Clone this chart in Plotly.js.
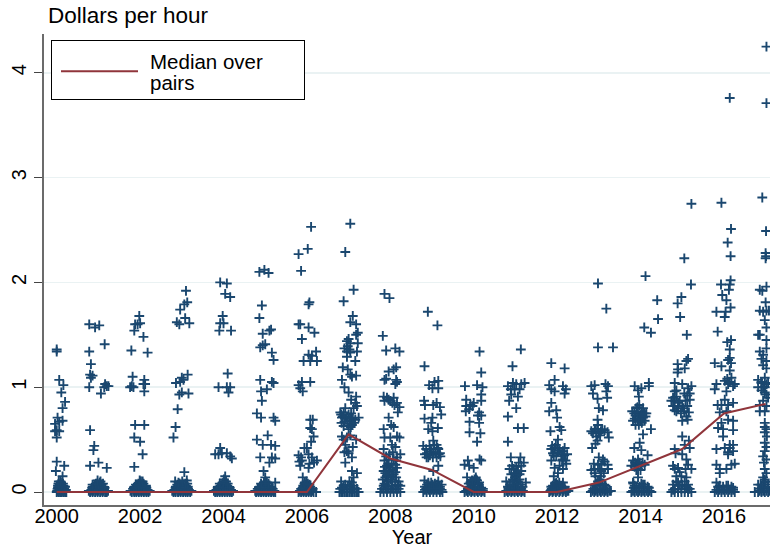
<!DOCTYPE html>
<html><head><meta charset="utf-8">
<script src="https://cdn.plot.ly/plotly-3.0.1.min.js"></script>
<style>html,body{margin:0;padding:0;background:#fff}</style></head>
<body><div id="chart" style="width:770px;height:548px"></div>
<script>
// Each point: [horizontal jitter in years, dollars per hour]
const p2000=[[0,1.36],[0,1.34],[.06,1.07],[.16,1.02],[.11,.95],[.2,.86],[.14,.8],[.02,.71],[.14,.68],[.06,.67],[-.04,.65],[0,.59],[.06,.58],[-.04,.58],[0,.52],[0,.29],[.18,.25],[-.02,.2],[.14,.15],
[0,0],[.04,0],[.08,0],[.12,0],[.16,0],[.2,0],[.23,0],[.02,.03],[.06,.02],[.1,.03],[.14,.02],[.18,.03],[.22,.02],[.03,.06],[.07,.07],[.12,.06],[.16,.06],[.2,.05],[.1,.09],[.05,.1],
[.01,.01],[.05,.01],[.09,.02],[.13,.01],[.17,.01],[.21,.01],[.03,.04],[.08,.04],[.13,.04],[.18,.05],[.06,.05],[.11,.07],[.15,.08],[.04,.08],[.09,.1]];
const p2001=[[-.22,1.6],[-.08,1.57],[.02,1.59],[.15,1.41],[-.22,1.34],[-.18,1.22],[-.2,1.12],[-.14,1.11],[-.18,1.09],[-.22,1],[.06,.94],[.16,1.03],[.2,1.01],[.14,1],[.24,1.01],[-.2,.59],[-.1,.44],[-.12,.4],[0,.28],[-.2,.25],[.2,.23],
[-.2,0],[-.14,0],[-.08,0],[-.02,0],[.04,0],[.1,0],[.16,0],[.2,0],[-.17,.02],[-.11,.03],[-.05,.02],[.01,.03],[.07,.02],[.13,.03],[.19,.01],[-.12,.05],[-.06,.06],[0,.05],[.06,.06],[.11,.05],[-.03,.08],[.03,.09],[.08,.07],[-.09,.07],
[-.23,.01],[-.18,.01],[-.12,.01],[-.06,.01],[0,.01],[.06,.01],[.12,.01],[.18,.01],[.23,.01],[-.15,.04],[-.09,.04],[-.03,.04],[.03,.04],[.09,.04],[.15,.04],[-.14,.07],[-.06,.08],[.01,.07],[.11,.08],[.05,.1],[-.02,.11]];
const p2002=[[-.02,1.68],[-.12,1.6],[-.06,1.6],[0,1.61],[-.14,1.54],[.08,1.48],[-.21,1.35],[.18,1.33],[-.18,1.1],[.1,1.07],[.08,1.03],[.12,1.03],[-.24,1],[-.16,1],[-.2,1.01],[.1,.96],[-.12,.64],[.1,.64],[-.14,.52],[0,.48],[.06,.36],[-.14,.24],
[-.2,0],[-.14,0],[-.09,0],[-.03,0],[.03,0],[.09,0],[.15,0],[.2,0],[-.17,.03],[-.11,.02],[-.05,.03],[.01,.02],[.06,.03],[.12,.02],[.18,.02],[-.13,.05],[-.07,.06],[-.01,.06],[.05,.07],[.11,.05],[-.04,.08],[.02,.1],[.08,.08],
[-.23,.01],[-.16,.01],[-.11,.01],[-.06,.01],[0,.01],[.06,.01],[.12,.01],[.17,.01],[.23,.01],[-.15,.04],[-.09,.04],[-.03,.04],[.03,.04],[.09,.04],[.15,.04],[-.1,.07],[-.03,.06],[.03,.07],[.14,.06],[.06,.1],[-.01,.11]];
const p2003=[[.1,1.92],[.13,1.81],[.06,1.79],[-.04,1.74],[.08,1.66],[-.12,1.62],[-.06,1.6],[.18,1.61],[.14,1.12],[0,1.09],[.04,1.07],[-.04,1.05],[-.14,1.04],[0,.95],[-.06,.93],[.16,.94],[-.1,.79],[-.15,.62],[-.2,.52],[.06,.19],[-.16,.1],[.12,.11],
[-.2,0],[-.15,0],[-.09,0],[-.03,0],[.03,0],[.09,0],[.14,0],[.2,0],[-.18,.02],[-.12,.03],[-.06,.02],[0,.03],[.06,.02],[.11,.03],[.17,.02],[-.14,.05],[-.08,.06],[-.02,.07],[.04,.06],[.1,.06],[.14,.05],[-.05,.08],[.02,.08],
[-.23,.01],[-.17,.01],[-.11,.01],[-.06,.01],[0,.01],[.06,.01],[.11,.01],[.17,.01],[.23,.01],[-.15,.04],[-.09,.04],[-.03,.04],[.03,.04],[.08,.04],[.15,.03],[-.11,.07],[.08,.08],[.13,.08],[-.08,.09],[.01,.1]];
const p2004=[[-.08,2],[.08,1.99],[.04,1.89],[.16,1.86],[-.02,1.68],[-.08,1.61],[0,1.61],[-.1,1.54],[.18,1.54],[.1,1.13],[-.12,1],[.08,1],[.16,1],[.12,.95],[-.08,.42],[-.2,.36],[-.12,.36],[-.04,.37],[.08,.37],[.16,.34],[.2,.32],[.04,.15],
[-.2,0],[-.15,0],[-.09,0],[-.03,0],[.03,0],[.09,0],[.15,0],[.2,0],[-.17,.02],[-.11,.03],[-.05,.02],[.01,.03],[.07,.03],[.13,.02],[.18,.02],[-.12,.05],[-.06,.06],[0,.06],[.06,.06],[.11,.05],[-.03,.08],[.03,.1],[.01,.12],[.07,.08],
[-.23,.01],[-.17,.01],[-.12,.01],[-.06,.01],[0,.01],[.06,.01],[.12,.01],[.17,.01],[.23,.01],[-.14,.04],[-.08,.04],[-.02,.04],[.04,.04],[.09,.04],[.15,.04],[-.09,.08],[-.01,.09],[.1,.08],[.06,.1]];
const p2005=[[-.14,2.1],[-.02,2.12],[.08,2.09],[-.08,1.78],[-.14,1.66],[.14,1.55],[.1,1.54],[-.06,1.51],[0,1.41],[-.06,1.4],[-.12,1.38],[.16,1.33],[.2,1.26],[-.12,1.07],[.16,1.05],[.2,1.04],[-.1,.96],[.04,.98],[-.08,.87],[-.2,.75],[-.1,.71],[.2,.71],[.24,.68],[.06,.54],[-.2,.5],[-.06,.45],[.14,.45],[.24,.44],[-.12,.33],[.16,.33],[.24,.32],[.1,.28],[-.04,.2],[0,.14],[.24,.09],
[-.22,0],[-.16,0],[-.1,0],[-.04,0],[.02,0],[.08,0],[.14,0],[.2,0],[.24,0],[-.18,.03],[-.12,.02],[-.06,.03],[0,.02],[.06,.03],[.12,.02],[.18,.03],[-.13,.05],[-.07,.06],[-.01,.07],[.05,.06],[.1,.05],[-.03,.09],[.04,.09],
[-.24,.01],[-.19,.01],[-.13,.01],[-.07,.01],[-.01,.01],[.05,.01],[.11,.01],[.17,.01],[.22,.01],[-.15,.04],[-.09,.04],[-.03,.04],[.03,.04],[.09,.04],[.15,.04],[-.1,.08],[.01,.1],[.08,.08]];
const p2006=[[.1,2.53],[.02,2.32],[-.2,2.27],[-.14,2.11],[.04,1.79],[.06,1.81],[-.2,1.6],[-.16,1.6],[.04,1.57],[.18,1.52],[-.12,1.46],[.22,1.34],[.04,1.31],[.12,1.3],[-.08,1.25],[.08,1.25],[.24,1.25],[-.12,1.05],[.08,1.05],[-.2,1.02],[-.16,.99],[-.1,.96],[.08,.69],[.14,.69],[.08,.61],[.12,.6],[.16,.53],[.1,.48],[0,.42],[-.06,.42],[-.2,.35],[.04,.36],[-.12,.3],[.24,.3],[.12,.33],[-.16,.25],[.04,.23],[-.1,.14],
[-.2,0],[-.14,0],[-.08,0],[-.02,0],[.04,0],[.1,0],[.16,0],[.22,0],[-.12,.03],[-.06,.02],[0,.03],[.06,.02],[.12,.02],[-.09,.06],[-.03,.07],[.03,.06],[.08,.05],[-.05,.09],[-.01,.1],
[-.17,.01],[-.11,.01],[-.05,.01],[.01,.01],[.07,.01],[.13,.01],[-.09,.04],[-.03,.04],[.03,.04],[.09,.03],[.14,.03],[-.14,.03],[-.06,.08],[.02,.08],[.06,.07],[.17,.28],[.06,.27],[-.14,.33],[-.18,.29]];
const p2007=[[.04,2.56],[-.08,2.29],[.12,1.93],[-.12,1.82],[.1,1.68],[.04,1.62],[.18,1.6],[.22,1.52],[.18,1.5],[0,1.46],[-.04,1.44],[.04,1.42],[.22,1.42],[-.1,1.37],[-.02,1.39],[.02,1.36],[-.04,1.34],[.04,1.33],[.2,1.34],[-.04,1.29],[.16,1.25],[-.14,1.19],[-.02,1.17],[.04,1.12],[.18,1.11],[.08,1.1],[-.16,1.07],[-.1,1],[0,.95],[.18,.91],[.06,.88],[.16,.85],[.2,.82],[.12,.8],[-.08,.8],[-.2,.76],[-.12,.76],[0,.74],[.06,.75],[.24,.71],[-.16,.71],[-.08,.7],[.02,.68],[.16,.69],[-.12,.63],[.08,.64],[0,.6],[-.16,.53],[.04,.54],[.18,.5],[-.08,.45],[-.04,.39],[0,.37],[.08,.33],[-.08,.28],[.2,.18],[.08,.2],[.12,.14],[-.18,.1],[.02,.1],[-.12,.06],[.04,.06],[-.22,0],[-.14,0],[-.06,0],[.02,0],[.1,0],[.18,0],[.24,0],[-.16,.04],[-.08,.07],[.12,.06],
[-.18,.74],[-.14,.72],[-.05,.72],[.04,.71],[.1,.7],[-.1,.67],[-.17,.66],[-.03,.65],[.05,.62],[.13,.66],[-.12,.5],[-.04,.52],[.1,.43],[-.1,.38],[-.18,0],[-.1,0],[-.02,0],[.06,0],[.14,0],[.21,0],[-.2,.03],[-.12,.03],[-.04,.03],[.04,.03],[.12,.03],[.2,.03],[.08,.09],[-.02,.06]];
const p2008=[[-.14,1.89],[-.02,1.85],[-.18,1.49],[-.1,1.35],[.12,1.37],[.22,1.34],[.14,1.19],[.08,1.17],[-.04,1.15],[-.1,1.08],[-.14,1.07],[.14,1.07],[.16,1.05],[.12,1.03],[-.16,.91],[-.08,.9],[-.14,.87],[.08,.9],[0,.87],[.16,.85],[.1,.83],[.22,.81],[.18,.76],[-.04,.71],[.02,.64],[-.16,.6],[.08,.62],[-.14,.52],[.16,.53],[.22,.52],[0,.52],[.04,.45],[.12,.43],[-.16,.41],[.24,.36],[.16,.33],[-.04,.31],[.08,.31],[-.08,.25],[-.16,.2],[0,.23],[.16,.23],[-.08,.15],[.08,.17],[-.18,.12],[0,.12],[.2,.1],[-.24,0],[-.16,0],[-.08,0],[0,0],[.08,0],[.16,0],[.24,0],[-.16,.06],[-.04,.06],[.12,.06],[.24,.06],[-.12,.14],
[-.04,.88],[.05,.85],[-.1,.34],[-.02,.36],[.06,.38],[.14,.3],[-.14,.3],[-.05,.27],[.03,.27],[.12,.26],[-.13,.24],[-.03,.2],[.06,.21],[.12,.19],[-.12,.18],[-.05,.16],[.02,.15],[.14,.14],[-.14,.08],[-.06,.1],[.05,.1],[.12,.1],[-.2,.03],[-.12,.03],[-.04,.03],[.04,.03],[.12,.03],[.2,.03],[-.09,.06],[.04,.06],[.18,.07]];
const p2009=[[-.1,1.72],[.13,1.59],[-.18,1.2],[.15,1.06],[.06,1.05],[-.07,1.02],[.01,.99],[.15,.99],[-.19,.87],[-.17,.83],[.11,.85],[.19,.81],[.03,.83],[.22,.74],[-.18,.7],[.01,.71],[-.02,.66],[.14,.61],[-.09,.6],[.01,.58],[.03,.49],[.11,.45],[-.21,.44],[-.05,.41],[.15,.41],[-.17,.36],[.03,.37],[.19,.37],[-.09,.33],[.11,.33],[.15,.25],[.03,.2],[-.18,.11],[-.09,.09],[.01,.07],[.15,.1],[.23,.07],[-.21,0],[-.13,0],[-.05,0],[.03,0],[.11,0],[.19,0],[.25,0],[-.17,.05],[-.05,.05],[.07,.05],[.19,.05],
[-.06,.44],[.05,.45],[.13,.42],[-.14,.41],[.09,.38],[-.02,.39],[-.12,.37],[-.05,.35],[.16,.36],[-.13,.33],[.02,.33],[.2,.34],[-.17,.02],[-.09,.02],[-.01,.02],[.07,.02],[.15,.02],[.23,.02],[-.12,.07],[-.02,.09],[.07,.08],[.12,.07],[-.14,.03],[.03,.03],[-.06,.03],[.12,.03],[.19,.03]];
const p2010=[[.14,1.34],[.18,1.14],[-.21,1.01],[.08,1.02],[.21,1],[.18,.93],[-.18,.88],[.18,.87],[0,.85],[-.08,.83],[-.18,.82],[-.03,.82],[-.11,.79],[-.19,.77],[.13,.76],[.1,.73],[.18,.73],[-.1,.67],[.13,.66],[-.1,.57],[.16,.56],[.08,.48],[.14,.31],[.18,.3],[-.14,.3],[-.22,.26],[-.11,.25],[0,.23],[-.16,.14],[.06,.12],[-.08,.09],[0,.1],[.13,.09],[-.22,0],[-.14,0],[-.06,0],[.02,0],[.1,0],[.18,0],[.26,0],[-.1,.05],[0,.05],[.1,.05],[.18,.04],[-.02,.08],
[-.18,.01],[-.1,.01],[-.02,.01],[.06,.01],[.14,.01],[.22,.01],[-.14,.03],[-.05,.03],[.03,.03],[.1,.03],[.16,.03],[-.06,.07],[.04,.07],[.11,.08],[-.12,.08],[.02,.12],[.08,.11],[-.04,.11],[.05,.14],[-.14,.03],[.22,.03]];
const p2011=[[.13,1.36],[-.07,1.2],[-.06,1.04],[-.18,1.01],[.02,1.03],[.22,1.04],[.14,1.03],[-.11,.98],[-.02,.98],[.1,.98],[-.1,.93],[.06,.91],[-.15,.87],[.02,.8],[-.18,.72],[.06,.61],[.2,.61],[-.18,.48],[-.11,.33],[.12,.33],[.2,.28],[.14,.25],[-.14,.22],[.06,.2],[-.02,.18],[.02,.15],[-.22,.1],[-.06,.12],[.06,.1],[.25,.09],[-.26,0],[-.18,0],[-.1,0],[-.02,0],[.06,0],[.14,0],[.22,0],[-.18,.05],[-.06,.05],[.06,.05],[.17,.05],[-.02,.1],
[-.22,.01],[-.14,.01],[-.06,.01],[.02,.01],[.1,.01],[.18,.01],[-.16,.03],[-.09,.03],[-.01,.03],[.07,.03],[.14,.03],[-.13,.07],[-.03,.07],[.03,.08],[.12,.07],[-.08,.1],[.1,.12],[-.01,.14],[.04,.18],[-.04,.22],[.02,.24],[-.1,.17],[.1,.17],[.14,.2],[-.08,.25],[.08,.28]];
const p2012=[[-.14,1.23],[.18,1.18],[-.06,1.07],[-.19,1.02],[.14,1.01],[.21,.98],[-.14,.98],[-.06,.96],[.18,.94],[-.14,.85],[-.19,.77],[-.02,.78],[0,.71],[.06,.62],[-.16,.58],[.1,.59],[.02,.5],[-.03,.45],[-.14,.41],[.02,.42],[.18,.42],[-.1,.37],[.1,.36],[.24,.36],[-.14,.3],[.14,.31],[.06,.25],[.22,.27],[-.06,.23],[.14,.22],[.02,.18],[-.08,.15],[-.02,.09],[.14,.09],[-.19,0],[-.11,0],[-.03,0],[.05,0],[.13,0],[.21,0],[.27,.01],[-.14,.05],[-.03,.06],[.06,.06],[.18,.05],
[-.06,.42],[-.12,.44],[.06,.4],[.14,.39],[-.08,.35],[.03,.38],[.17,.35],[-.02,.34],[.12,.3],[.2,.3],[-.16,.01],[-.08,.01],[0,.01],[.08,.01],[.16,.01],[.24,.01],[-.13,.03],[-.06,.03],[.02,.03],[.1,.03],[.17,.03],[-.1,.06],[.01,.07],[.1,.06],[-.05,.08],[.05,.09],[-.14,.02]];
const p2013=[[-.02,1.99],[.18,1.75],[-.02,1.38],[.34,1.38],[-.18,1.01],[-.1,1.02],[.16,1.03],[.22,1.01],[-.14,.94],[.18,.96],[-.03,.89],[.2,.9],[0,.8],[.1,.78],[-.03,.69],[-.18,.58],[-.1,.6],[-.02,.64],[.05,.58],[.14,.59],[.21,.57],[-.06,.53],[.24,.52],[-.03,.49],[-.08,.46],[-.16,.42],[0,.33],[.1,.31],[-.02,.26],[.21,.26],[-.18,.21],[-.1,.22],[.02,.22],[.22,.22],[-.08,.15],[.05,.15],[-.19,0],[-.11,0],[-.03,0],[.05,0],[.13,0],[.21,0],[.29,.01],[-.1,.06],[.02,.07],[.16,.06],[-.02,.1],
[-.15,.01],[-.07,.01],[.01,.01],[.09,.01],[.17,.01],[.25,.01],[-.13,.03],[-.05,.03],[.03,.03],[.11,.03],[.19,.03],[-.06,.07],[.08,.08],[.13,.07],[.02,.12],[-.1,.18],[.12,.18],[.06,.2],[-.12,.27],[.14,.29],[.06,.27],[-.08,.6],[-.14,.56],[0,.56],[.08,.6],[-.04,.6],[.03,.54]];
const p2014=[[.12,2.06],[.4,1.83],[.42,1.65],[.09,1.57],[.25,1.52],[.2,1.04],[.2,1.01],[-.14,1.01],[-.06,.97],[.02,.99],[-.04,.91],[-.07,.81],[.02,.77],[-.2,.77],[.14,.75],[-.12,.73],[-.02,.72],[.06,.71],[-.18,.68],[-.06,.68],[.1,.68],[-.12,.64],[.25,.6],[.06,.55],[-.02,.47],[-.15,.42],[.02,.4],[.17,.35],[-.18,.3],[-.06,.31],[-.1,.26],[.02,.25],[-.22,.25],[.1,.26],[-.06,.22],[-.06,.14],[-.18,.09],[-.22,0],[-.14,0],[-.06,0],[.02,0],[.1,0],[.18,0],[.26,0],[-.14,.06],[.06,.07],[.17,.05],
[-.1,.8],[-.03,.83],[.06,.8],[-.15,.75],[-.07,.76],[.02,.74],[.1,.75],[-.14,.7],[-.08,.7],[0,.69],[.12,.72],[.03,.66],[-.04,.64],[-.13,.28],[-.02,.28],[.05,.28],[-.14,.24],[0,.21],[-.1,.21],[-.18,.01],[-.1,.01],[-.02,.01],[.06,.01],[.14,.01],[.22,.01],[-.16,.04],[-.1,.05],[-.02,.05],[.02,.08],[.1,.04],[.2,.04],[.1,.07],[-.17,.08]];
const p2015=[[.22,2.75],[.05,2.23],[.21,1.98],[-.02,1.86],[-.11,1.8],[-.05,1.67],[.11,1.5],[-.11,1.22],[.1,1.25],[.14,1.27],[-.1,1.17],[.06,1.18],[-.11,1.14],[-.18,1.04],[0,1.03],[.22,1.01],[-.18,.96],[.05,.94],[.18,.94],[-.14,.91],[-.26,.87],[-.18,.87],[-.06,.87],[.08,.87],[.18,.88],[-.22,.82],[-.1,.8],[0,.82],[-.14,.77],[.05,.77],[.16,.76],[.1,.72],[0,.68],[.13,.69],[0,.53],[.16,.49],[-.18,.41],[.06,.45],[.18,.42],[0,.36],[.1,.31],[.14,.26],[-.18,.22],[-.1,.23],[.08,.22],[.22,.22],[-.14,.15],[-.02,.15],[.1,.14],[-.22,.07],[-.1,.09],[0,.07],[.14,.07],[-.26,0],[-.18,0],[-.1,0],[-.02,0],[.06,0],[.14,0],[.22,0],
[-.14,.97],[.14,.99],[-.22,.9],[-.1,.85],[.12,.92],[.03,.8],[.12,.82],[-.18,.78],[-.03,.75],[-.16,.37],[-.22,.25],[-.06,.19],[-.14,.1],[.06,.1],[-.18,.03],[-.1,.03],[-.02,.03],[.06,.03],[.14,.03],[-.22,.02],[.18,.03],[-.06,.06],[.1,.05]];
const p2016=[[-.06,2.76],[.17,2.51],[.09,2.38],[.16,2.25],[.16,2.02],[-.07,1.98],[.14,1.98],[.12,1.93],[-.04,1.88],[.06,1.83],[.16,1.76],[-.18,1.72],[.04,1.72],[.02,1.67],[-.15,1.53],[.17,1.45],[.08,1.43],[.14,3.76],[.14,1.36],[.14,1.28],[.1,1.26],[.17,1.23],[-.22,1.23],[-.06,1.2],[.14,1.16],[.18,1.09],[.02,1.06],[-.18,1.03],[.1,1.03],[.26,1.03],[-.22,.98],[.06,.96],[.22,1.01],[-.15,.83],[.02,.88],[.22,.85],[-.06,.83],[.1,.83],[-.1,.76],[.06,.77],[.1,.69],[-.06,.66],[.22,.68],[-.14,.61],[-.02,.6],[.22,.59],[-.02,.53],[.22,.45],[-.18,.41],[.02,.42],[.14,.42],[.22,.39],[.1,.36],[-.18,.26],[.18,.26],[.26,.27],[-.1,.22],[.06,.22],[-.1,.18],[-.18,.09],[-.22,0],[-.14,0],[-.06,0],[.02,0],[.1,0],[.18,0],[.26,0],[-.1,.06],[.1,.06],[.22,.04],
[.08,1.08],[.14,1.05],[.14,.45],[.1,.38],[-.18,.02],[-.1,.02],[-.02,.02],[.06,.02],[.14,.02],[.22,.02],[-.14,.05],[-.02,.05],[.06,.06],[.18,.05]];
const p2017=[[-.08,2.81],[.01,2.49],[0,2.28],[.01,2.25],[0,2.23],[.02,1.96],[-.14,1.93],[-.08,1.92],[0,1.81],[-.14,1.73],[-.06,1.72],[.02,1.73],[.08,1.73],[-.02,1.64],[.02,1.57],[-.14,1.5],[-.18,1.5],[.02,1.45],[.02,4.25],[.02,3.71],[.02,1.37],[-.14,1.34],[-.06,1.31],[-.1,1.27],[.02,1.25],[-.06,1.21],[.02,1.18],[-.18,1.07],[-.02,1.09],[-.1,1.04],[.06,1.04],[-.18,1],[-.02,1],[-.02,.95],[.06,.9],[-.14,.83],[.02,.82],[-.14,.77],[-.02,.77],[-.02,.66],[.02,.6],[-.02,.57],[-.02,.47],[.02,.43],[-.02,.39],[-.06,.34],[.02,.31],[-.02,.22],[.02,.18],[-.06,.14],[-.18,.07],[-.06,.07],[.06,.07],[-.26,0],[-.18,0],[-.1,0],[-.02,0],[.06,0],[-.14,.03],[-.02,.09],
[-.1,1.05],[.02,1.03],[-.06,1],[-.1,.97],[.02,.93],[-.06,.87],[-.02,.62],[.03,.53],[-.04,.28],[-.02,.12],[-.14,.01],[-.06,.01],[.02,.01],[.1,.01],[-.1,.04],[-.02,.04],[.06,.04],[-.12,.07],[0,.1]];

const years=[2000,2001,2002,2003,2004,2005,2006,2007,2008,2009,2010,2011,2012,2013,2014,2015,2016,2017];
const perYear=[p2000,p2001,p2002,p2003,p2004,p2005,p2006,p2007,p2008,p2009,p2010,p2011,p2012,p2013,p2014,p2015,p2016,p2017];
const medianValues=[0,0,0,0,0,0,0,.55,.32,.21,0,0,0,.09,.25,.41,.75,.84];
const xTicks=[2000,2002,2004,2006,2008,2010,2012,2014,2016];
const yTicks=[0,1,2,3,4];

const px=[],py=[];
perYear.forEach((pts,i)=>pts.forEach(p=>{px.push(years[i]+p[0]);py.push(p[1]);}));
const fontFam='"Liberation Sans", Arial, sans-serif';

Plotly.newPlot('chart',[
 {type:'scatter',mode:'markers',x:px,y:py,showlegend:false,hoverinfo:'skip',
  marker:{symbol:'cross-thin',size:7,color:'#1a476f',line:{color:'#1a476f',width:1.9}}},
 {type:'scatter',mode:'lines',x:years,y:medianValues,name:'Median over<br>pairs',
  line:{color:'#90353b',width:2}}
],{
 width:770,height:548,
 margin:{l:44,r:0,t:34,b:43,pad:0},
 paper_bgcolor:'#fff',plot_bgcolor:'#fff',
 font:{family:fontFam,size:20,color:'#000'},
 title:{text:'Dollars per hour',x:48/770,xref:'container',xanchor:'left',y:1-15/548,yref:'container',yanchor:'middle',font:{size:22.5,family:fontFam,color:'#000'}},
 xaxis:{range:[1999.695,2017.105],tickmode:'array',tickvals:xTicks,ticktext:xTicks.map(String),ticks:'',ticklabelstandoff:-8,showgrid:false,zeroline:false,showline:true,linecolor:'#6b6b6b',linewidth:2,tickfont:{size:20},title:{text:'Year',font:{size:20},standoff:2}},
 yaxis:{range:[-.124,4.37],tickmode:'array',tickvals:yTicks,ticktext:yTicks.map(String),tickangle:-90,ticks:'outside',ticklen:8,tickwidth:1,tickcolor:'#444',showgrid:true,gridcolor:'#eaf2f3',gridwidth:1.5,zeroline:false,showline:true,linecolor:'#6b6b6b',linewidth:2,tickfont:{size:20}},
 legend:{x:7/726,xanchor:'left',y:1-6/471,yanchor:'top',bgcolor:'#fff',bordercolor:'#000',borderwidth:1,itemwidth:88,font:{size:20.5},tracegroupgap:0},
 showlegend:true
},{displayModeBar:false,staticPlot:true}).then(()=>{
 // Fine-tune the legend's line spacing, box size and sample line
 const root=document.getElementById('chart');
 const lines=root.querySelectorAll('.legend .legendtext tspan.line');
 if(lines.length>1){lines[1].setAttribute('dy','1.03em');}
 const bg=root.querySelector('.legend rect.bg');
 if(bg){bg.setAttribute('height','59');bg.setAttribute('width','253');}
 const sample=root.querySelector('.legend .legendlines path');
 if(sample){sample.setAttribute('d','M9,-3h77');}
 const yt=root.querySelector('.xtitle');
 if(yt){yt.setAttribute('x',String(parseFloat(yt.getAttribute('x'))+5));}
});
</script></body></html>
